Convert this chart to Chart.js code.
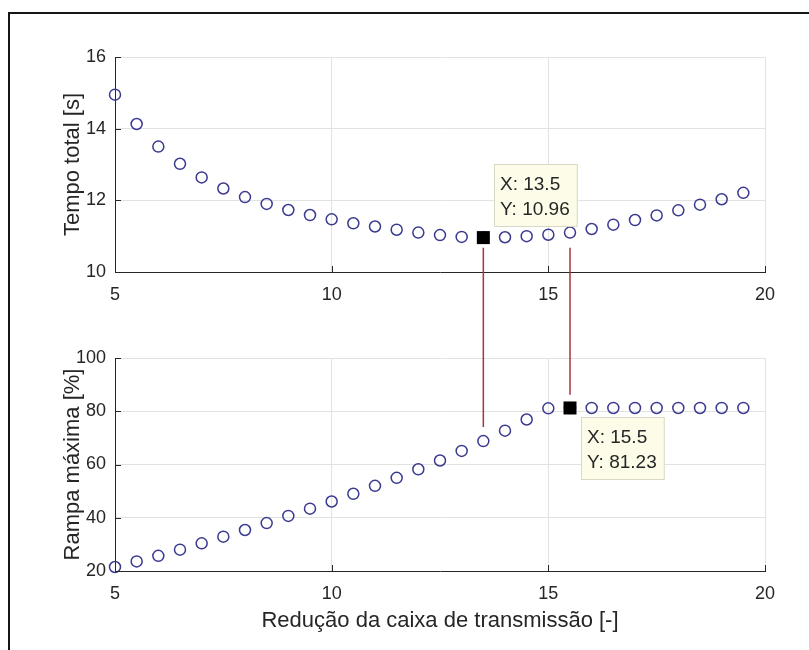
<!DOCTYPE html>
<html><head><meta charset="utf-8">
<script src="https://cdn.jsdelivr.net/npm/chart.js@4.4.1/dist/chart.umd.min.js"></script>
<style>
html,body{margin:0;padding:0;background:#fff;}
#wrap{position:relative;width:809px;height:650px;overflow:hidden;background:#fff;}
canvas{position:absolute;left:0;}
#c1{top:0;} #c2{top:325px;}
#frame{position:absolute;left:8px;top:12px;width:820px;height:660px;border-left:2px solid #151515;border-top:2px solid #151515;pointer-events:none;}
</style></head><body>
<div id="wrap">
<canvas id="c1" width="809" height="325"></canvas>
<canvas id="c2" width="809" height="325"></canvas>
<div id="frame"></div>
</div>
<script>
// ---- data ----
const reducao = [5,5.5,6,6.5,7,7.5,8,8.5,9,9.5,10,10.5,11,11.5,12,12.5,13,13.5,14,14.5,15,15.5,16,16.5,17,17.5,18,18.5,19,19.5];
const tempoTotal = [14.95,14.13,13.5,13.02,12.64,12.33,12.09,11.9,11.73,11.59,11.47,11.36,11.27,11.18,11.1,11.03,10.98,10.96,10.97,11.0,11.04,11.1,11.2,11.32,11.45,11.58,11.72,11.88,12.03,12.21];
const rampaMaxima = [21.5,23.6,25.7,28.0,30.4,32.9,35.4,38.0,40.7,43.4,46.1,49.0,52.0,55.0,58.2,61.5,65.1,68.8,72.7,76.9,81.1,81.23,81.23,81.23,81.23,81.23,81.23,81.23,81.23,81.23];
const xTicks = [5,10,15,20];
const tempoTicks = [10,12,14,16];
const rampaTicks = [20,40,60,80,100];
const tipTempo = [13.5, 10.96];
const tipRampa = [15.5, 81.23];
const linkX = [13.5, 15.5];
const linkTempoStart = [10.68, 10.68];
const linkRampaEnd = [74.1, 86.2];

const FONT = '"Liberation Sans", Arial, Helvetica, sans-serif';
const TXT = '#262626';
Chart.defaults.font.family = FONT;
Chart.defaults.color = TXT;

const decorPlugin = {
  id: 'decor',
  afterDraw(chart, args, o) {
    const ctx = chart.ctx, xs = chart.scales.x, ys = chart.scales.y, ca = chart.chartArea;
    ctx.save();
    // inward tick marks
    ctx.strokeStyle = TXT; ctx.lineWidth = 1;
    ctx.beginPath();
    xs.ticks.forEach(t => { const p = Math.round(xs.getPixelForValue(t.value)) + 0.5; ctx.moveTo(p, ca.bottom); ctx.lineTo(p, ca.bottom - 6); });
    ys.ticks.forEach(t => { const p = Math.round(ys.getPixelForValue(t.value)) + 0.5; ctx.moveTo(ca.left, p); ctx.lineTo(ca.left + 6, p); });
    ctx.stroke();
    // link lines between the two axes
    ctx.strokeStyle = '#a8343f'; ctx.lineWidth = 1.5;
    ctx.beginPath();
    linkX.forEach((xv, i) => {
      const px = xs.getPixelForValue(xv);
      if (o.part === 'top') { ctx.moveTo(px, ys.getPixelForValue(linkTempoStart[i])); ctx.lineTo(px, chart.height); }
      else { ctx.moveTo(px, 0); ctx.lineTo(px, ys.getPixelForValue(linkRampaEnd[i])); }
    });
    ctx.stroke();
    // data tip box
    const tip = o.tip;
    const px = xs.getPixelForValue(tip[0]), py = ys.getPixelForValue(tip[1]);
    ctx.font = '19px ' + FONT;
    const lines = ['X: ' + tip[0], 'Y: ' + tip[1]];
    const w = Math.max(...lines.map(l => ctx.measureText(l).width)) + 14;
    const h = 63;
    const left = Math.round(px + 11);
    const top = Math.round(o.part === 'top' ? py - 11 - h : py + 9);
    ctx.fillStyle = '#fcfce8'; ctx.fillRect(left, top, w, h);
    ctx.strokeStyle = '#d8d8c4'; ctx.lineWidth = 1; ctx.strokeRect(left + 0.5, top + 0.5, w - 1, h - 1);
    ctx.fillStyle = TXT; ctx.textAlign = 'left'; ctx.textBaseline = 'middle';
    ctx.fillText(lines[0], left + 6, top + 21);
    ctx.fillText(lines[1], left + 6, top + 46);
    ctx.restore();
  }
};

function makeChart(id, values, yTicks, yTitle, tip, part) {
  const pts = reducao.map((x, i) => ({x: x, y: values[i]}));
  const isTop = part === 'top';
  return new Chart(document.getElementById(id), {
    type: 'scatter',
    data: { datasets: [
      { data: [{x: tip[0], y: tip[1]}], pointStyle: 'rect', pointRadius: 9.2, pointBackgroundColor: '#000', pointBorderColor: '#000', pointBorderWidth: 0, clip: false },
      { data: pts, pointStyle: 'circle', pointRadius: 5.5, pointBackgroundColor: 'rgba(0,0,0,0)', pointBorderColor: '#3a3a90', pointBorderWidth: 1.5, clip: false }
    ]},
    options: {
      responsive: false, animation: false, events: [],
      layout: { padding: isTop ? {left: 60, right: 44, top: 57, bottom: 13} : {left: 60, right: 44, top: 33, bottom: 16} },
      plugins: { legend: {display: false}, tooltip: {enabled: false}, decor: {part: part, tip: tip} },
      scales: {
        x: {
          type: 'linear', min: 5, max: 20,
          afterBuildTicks: s => { s.ticks = xTicks.map(v => ({value: v})); },
          afterFit: s => { s.height = isTop ? 40 : 63; s.paddingLeft = 0; s.paddingRight = 0; },
          ticks: { font: {size: 18}, color: TXT, padding: 12, maxRotation: 0, autoSkip: false },
          grid: { color: '#e2e2e2', drawTicks: false, lineWidth: 1 },
          border: { display: true, color: TXT, width: 1 },
          title: { display: !isTop, text: 'Redução da caixa de transmissão [-]', font: {size: 22}, color: TXT, padding: {top: 0, bottom: 0} }
        },
        y: {
          type: 'linear', min: yTicks[0], max: yTicks[yTicks.length - 1],
          afterBuildTicks: s => { s.ticks = yTicks.map(v => ({value: v})); },
          afterFit: s => { s.width = 55; s.paddingTop = 0; s.paddingBottom = 0; },
          ticks: { font: {size: 18}, color: TXT, padding: 9 },
          grid: { color: '#e2e2e2', drawTicks: false, lineWidth: 1 },
          border: { display: true, color: TXT, width: 1 },
          title: { display: true, text: yTitle, font: {size: 22}, color: TXT, padding: {top: 0, bottom: 0} }
        }
      }
    },
    plugins: [decorPlugin]
  });
}

makeChart('c1', tempoTotal, tempoTicks, 'Tempo total [s]', tipTempo, 'top');
makeChart('c2', rampaMaxima, rampaTicks, 'Rampa máxima [%]', tipRampa, 'bottom');
</script>
</body></html>
